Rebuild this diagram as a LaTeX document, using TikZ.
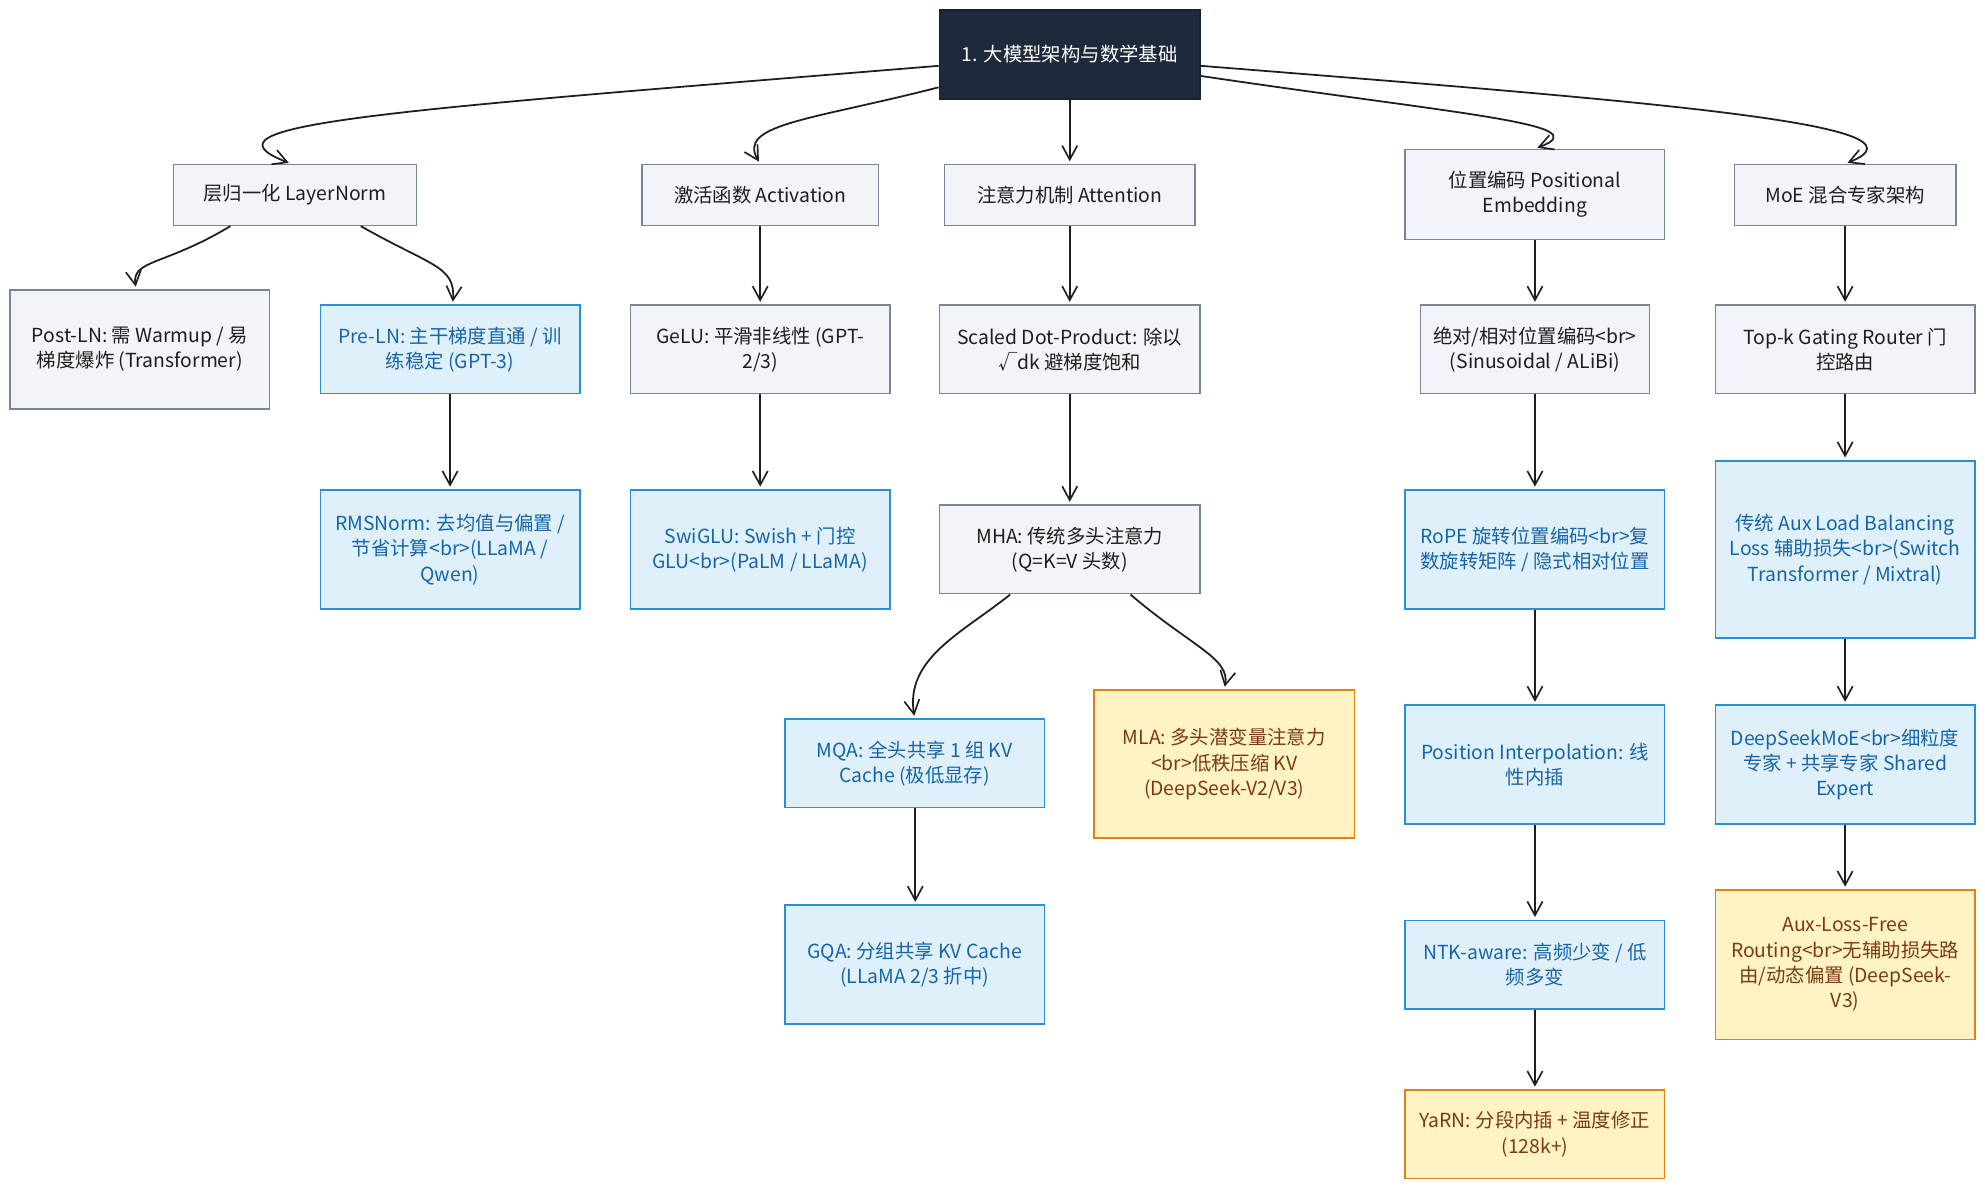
\documentclass[tikz,border=0pt]{standalone}
\usepackage{fontspec}
\setmainfont{Noto Sans CJK SC}
\usetikzlibrary{arrows.meta}
\definecolor{gfill}{HTML}{F1F4F9}
\definecolor{gline}{HTML}{7B8494}
\definecolor{gtext}{HTML}{1E1E1E}
\definecolor{bfill}{HTML}{DFF0FB}
\definecolor{bline}{HTML}{2B8FD6}
\definecolor{btext}{HTML}{1565A8}
\definecolor{yfill}{HTML}{FFF3C4}
\definecolor{yline}{HTML}{E5800E}
\definecolor{ytext}{HTML}{7C3A10}
\definecolor{rfill}{HTML}{1E293B}
\definecolor{arr}{HTML}{1E1E1E}
\newcommand\mybox[7]{%
  \node[#2, minimum width={(#5-#3)*1pt}, minimum height={(#6-#4)*1pt}]
    (#1) at ({(#3+#5)/2},{(#4+#6)/2}) {#7};}
\begin{document}
\begin{tikzpicture}[x=1pt,y=-1pt,
  base/.style={draw, line width=1.2pt, inner sep=0pt, align=center,
    font=\fontsize{15.3}{20}\selectfont},
  gbox/.style={base, fill=gfill, draw=gline, text=gtext},
  bbox/.style={base, fill=bfill, draw=bline, text=btext},
  ybox/.style={base, fill=yfill, draw=yline, text=ytext},
  rbox/.style={base, fill=rfill, draw=rfill!80!black, text=white},
  conn/.style={draw=arr, line width=1.4pt, shorten >=2pt,
    -{Straight Barb[length=11pt,width=12pt,line width=1.3pt]}}]
\useasboundingbox (0,0) rectangle (1568,940);
\fill[white] (0,0) rectangle (1568,940);
% root
\mybox{root}{rbox}{742}{8}{948}{78}{1. 大模型架构与数学基础}
% level 1
\mybox{ln}{gbox}{137}{130}{329}{178}{层归一化 LayerNorm}
\mybox{act}{gbox}{507}{130}{694}{178}{激活函数 Activation}
\mybox{att}{gbox}{746}{130}{944}{178}{注意力机制 Attention}
\mybox{pos}{gbox}{1110}{118}{1315}{189}{位置编码 Positional\\Embedding}
\mybox{moe}{gbox}{1370}{130}{1545}{178}{MoE 混合专家架构}
% level 2
\mybox{post}{gbox}{8}{229}{213}{323}{Post-LN: 需 Warmup / 易\\梯度爆炸 (Transformer)}
\mybox{pre}{bbox}{253}{241}{458}{311}{Pre-LN: 主干梯度直通 / 训\\练稳定 (GPT-3)}
\mybox{gelu}{gbox}{498}{241}{703}{311}{GeLU: 平滑非线性 (GPT-\\2/3)}
\mybox{sdp}{gbox}{742}{241}{948}{311}{Scaled Dot-Product: 除以\\√dk 避梯度饱和}
\mybox{abs}{gbox}{1122}{241}{1303}{311}{绝对/相对位置编码<br>\\(Sinusoidal / ALiBi)}
\mybox{topk}{gbox}{1355}{241}{1560}{311}{Top-k Gating Router 门\\控路由}
% level 3
\mybox{rms}{bbox}{253}{387}{458}{481}{RMSNorm: 去均值与偏置 /\\节省计算<br>(LLaMA /\\Qwen)}
\mybox{swi}{bbox}{498}{387}{703}{481}{SwiGLU: Swish + 门控\\GLU<br>(PaLM / LLaMA)}
\mybox{mha}{gbox}{742}{399}{948}{469}{MHA: 传统多头注意力\\(Q=K=V 头数)}
\mybox{rope}{bbox}{1110}{387}{1315}{481}{RoPE 旋转位置编码<br>复\\数旋转矩阵 / 隐式相对位置}
\mybox{aux}{bbox}{1355}{364}{1560}{504}{传统 Aux Load Balancing\\Loss 辅助损失<br>(Switch\\Transformer / Mixtral)}
% level 4
\mybox{mqa}{bbox}{620}{568}{825}{638}{MQA: 全头共享 1 组 KV\\Cache (极低显存)}
\mybox{mla}{ybox}{864}{545}{1070}{662}{MLA: 多头潜变量注意力\\<br>低秩压缩 KV\\(DeepSeek-V2/V3)}
\mybox{pi}{bbox}{1110}{557}{1315}{651}{Position Interpolation: 线\\性内插}
\mybox{dsm}{bbox}{1355}{557}{1560}{651}{DeepSeekMoE<br>细粒度\\专家 + 共享专家 Shared\\Expert}
% level 5
\mybox{gqa}{bbox}{620}{715}{825}{809}{GQA: 分组共享 KV Cache\\(LLaMA 2/3 折中)}
\mybox{ntk}{bbox}{1110}{727}{1315}{797}{NTK-aware: 高频少变 / 低\\频多变}
\mybox{alf}{ybox}{1355}{703}{1560}{821}{Aux-Loss-Free\\Routing<br>无辅助损失路\\由/动态偏置 (DeepSeek-\\V3)}
% level 6
\mybox{yarn}{ybox}{1110}{861}{1315}{931}{YaRN: 分段内插 + 温度修正\\(128k+)}
% connectors from root
\draw[conn] ([yshift=-9pt]root.west) .. controls (300,88) and (150,98) .. ([xshift=-3pt]ln.north);
\draw[conn] ([yshift=-26pt]root.west) .. controls (640,95) and (582,98) .. (act.north);
\draw[conn] (root.south) -- (att.north);
\draw[conn] ([yshift=-17pt]root.east) .. controls (1150,90) and (1265,98) .. (pos.north);
\draw[conn] ([yshift=-9pt]root.east) .. controls (1300,80) and (1535,98) .. (moe.north);
% layer norm
\draw[conn] ([xshift=-51pt]ln.south) .. controls (130,210) and (104,205) .. ([xshift=-3pt]post.north);
\draw[conn] ([xshift=52pt]ln.south) .. controls (340,210) and (360,210) .. ([xshift=2pt]pre.north);
\draw[conn] (pre.south) -- (rms.north);
% activation
\draw[conn] (act.south) -- (gelu.north);
\draw[conn] (gelu.south) -- (swi.north);
% attention
\draw[conn] (att.south) -- (sdp.north);
\draw[conn] (sdp.south) -- (mha.north);
\draw[conn] ([xshift=-47pt]mha.south) .. controls (760,500) and (715,520) .. (mqa.north);
\draw[conn] ([xshift=48pt]mha.south) .. controls (940,510) and (972,520) .. (mla.north);
\draw[conn] ([xshift=0.5pt]mqa.south) -- ([xshift=0.5pt]gqa.north);
% positional
\draw[conn] (pos.south) -- (abs.north);
\draw[conn] (abs.south) -- (rope.north);
\draw[conn] (rope.south) -- (pi.north);
\draw[conn] (pi.south) -- (ntk.north);
\draw[conn] (ntk.south) -- (yarn.north);
% moe
\draw[conn] (moe.south) -- (topk.north);
\draw[conn] (topk.south) -- (aux.north);
\draw[conn] (aux.south) -- (dsm.north);
\draw[conn] (dsm.south) -- (alf.north);
\end{tikzpicture}
\end{document}
